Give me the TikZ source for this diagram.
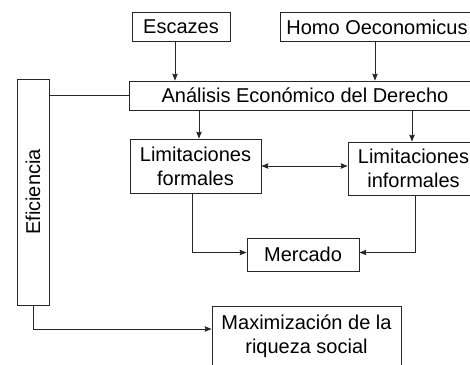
\documentclass[tikz,border=0pt]{standalone}
\usepackage{fontspec}
\setmainfont{Liberation Sans}
\usetikzlibrary{arrows.meta}

\begin{document}
\begin{tikzpicture}[x=1pt, y=-1pt,
    box/.style={draw=black!85, line width=0.8pt, inner sep=0pt, align=center,
        font=\fontsize{20}{24}\selectfont},
    linea/.style={draw=black!85, line width=0.8pt},
    flecha/.style={linea, -{Stealth[length=7pt, width=5.5pt, inset=1pt]}},
    doble/.style={linea, {Stealth[length=7pt, width=5.5pt, inset=1pt]}-{Stealth[length=7pt, width=5.5pt, inset=1pt]}}]
            \useasboundingbox (0, 0) rectangle (470, 364);
            \clip (0, 0) rectangle (470, 364);

            \node[box, minimum width=98pt, minimum height=29pt] (esc) at (181, 26.5) {Escazes};
            \node[box, minimum width=194pt, minimum height=29pt] (homo) at (377, 27) {Homo Oeconomicus};
            \node[box, minimum width=352pt, minimum height=29pt] (aed) at (305, 95.5) {Análisis Económico del Derecho};
            \node[box, rotate=90, minimum width=226pt, minimum height=32pt] (efi) at (33, 192) {Eficiencia};
            \node[box, minimum width=131pt, minimum height=54pt] (lf) at (195.5, 166) {Limitaciones\\formales};
            \node[box, minimum width=131pt, minimum height=53pt] (li) at (413.5, 168.5) {Limitaciones\\informales};
            \node[box, minimum width=112pt, minimum height=33pt] (merc) at (303, 254.5) {Mercado};
            \node[box, minimum width=189pt, minimum height=60pt] (max) at (306.5, 336) {Maximización de la\\riqueza social};

            \draw[flecha] ([xshift=-6pt]esc.south) -- ([xshift=-6pt]esc.south |- aed.north); % escazes-aed
            \draw[flecha] ([xshift=-2pt]homo.south) -- ([xshift=-2pt]homo.south |- aed.north); % homo-aed
            \draw[flecha] ([xshift=3.5pt]lf.north |- aed.south) -- ([xshift=3.5pt]lf.north); % aed-formales
            \draw[flecha] ([xshift=-1.5pt]li.north |- aed.south) -- ([xshift=-1.5pt]li.north); % aed-informales
            \draw[doble] (lf.east) -- (lf.east -| li.west); % formales-informales
            \draw[flecha] ([xshift=-3.5pt]lf.south) |- ([yshift=2pt]merc.west); % formales-mercado
            \draw[flecha] ([xshift=1.5pt]li.south) |- ([yshift=2pt]merc.east); % informales-mercado
            \draw[linea] (aed.west -| efi.south) -- (aed.west); % eficiencia-aed (south is the right side)
            \draw[flecha] (efi.west) |- ([yshift=7pt]max.west); % eficiencia-maximizacion
        \end{tikzpicture}
\end{document}
